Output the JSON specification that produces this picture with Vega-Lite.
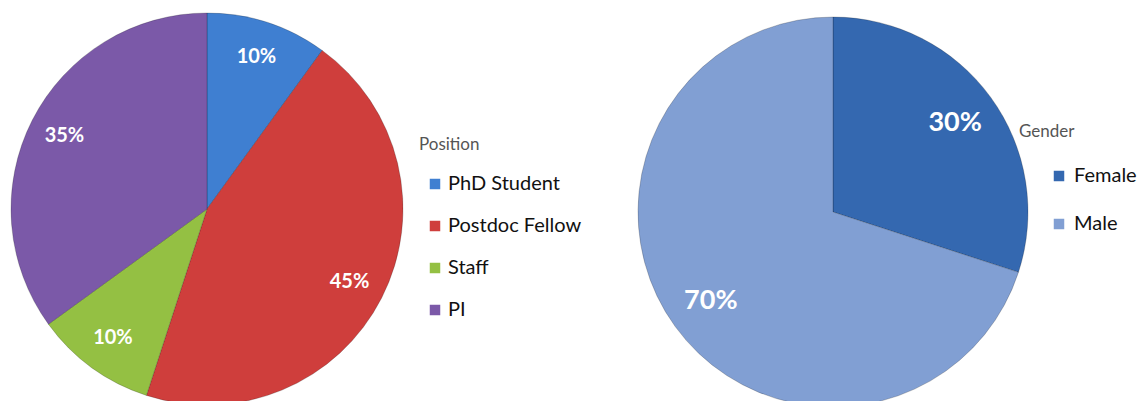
{
  "$schema": "https://vega.github.io/schema/vega-lite/v6.json",
  "background": "white",
  "padding": 0,
  "bounds": "flush",
  "spacing": 224,
  "config": {"view": {"stroke": null}},
  "resolve": {"scale": {"color": "independent", "theta": "independent"}, "legend": {"color": "independent"}},
  "hconcat": [
    {
      "width": 414,
      "height": 418,
      "data": {"values": [
        {"Position": "PhD Student", "share": 0.10, "idx": 1},
        {"Position": "Postdoc Fellow", "share": 0.45, "idx": 2},
        {"Position": "Staff", "share": 0.10, "idx": 3},
        {"Position": "PI", "share": 0.35, "idx": 4}
      ]},
      "encoding": {
        "theta": {"field": "share", "type": "quantitative", "stack": true},
        "order": {"field": "idx", "type": "quantitative"},
        "color": {
          "field": "Position", "type": "nominal",
          "scale": {"domain": ["PhD Student", "Postdoc Fellow", "Staff", "PI"], "range": ["#3f7fd1", "#cf3e3c", "#94c043", "#7b59a8"]},
          "legend": {
            "orient": "none", "legendX": 419, "legendY": 137, "padding": 0,
            "title": "Position", "titleFont": "Lato", "titleFontSize": 17, "titleFontWeight": "normal", "titleColor": "#555555", "titleBaseline": "top", "titlePadding": 20,
            "labelFont": "Lato", "labelFontSize": 20, "labelColor": "#111111", "labelOffset": 3,
            "symbolType": "square", "symbolSize": 110, "symbolOffset": 6, "symbolStrokeWidth": 0, "rowPadding": 22
          }
        }
      },
      "layer": [
        {"mark": {"type": "arc", "outerRadius": 196, "stroke": "#00000033", "strokeWidth": 1}},
        {"mark": {"type": "text", "radius": 160, "font": "Lato", "fontSize": 20, "fontWeight": "bold", "fill": "white"},
         "encoding": {"text": {"field": "share", "type": "quantitative", "format": ".0%"}}}
      ]
    },
    {
      "width": 390,
      "height": 424,
      "data": {"values": [
        {"Gender": "Female", "share": 0.30, "idx": 1},
        {"Gender": "Male", "share": 0.70, "idx": 2}
      ]},
      "encoding": {
        "theta": {"field": "share", "type": "quantitative", "stack": true},
        "order": {"field": "idx", "type": "quantitative"},
        "color": {
          "field": "Gender", "type": "nominal",
          "scale": {"domain": ["Female", "Male"], "range": ["#3468b0", "#819fd3"]},
          "legend": {
            "orient": "none", "legendX": 381, "legendY": 124, "padding": 0,
            "title": "Gender", "titleFont": "Lato", "titleFontSize": 17, "titleFontWeight": "normal", "titleColor": "#555555", "titleBaseline": "top", "titlePadding": 25,
            "labelFont": "Lato", "labelFontSize": 20, "labelColor": "#111111", "labelOffset": 5,
            "symbolType": "square", "symbolSize": 110, "symbolOffset": 30, "symbolStrokeWidth": 0, "rowPadding": 28
          }
        }
      },
      "layer": [
        {"mark": {"type": "arc", "outerRadius": 195, "stroke": "#00000033", "strokeWidth": 1}},
        {"mark": {"type": "text", "radius": 151, "font": "Lato", "fontSize": 27, "fontWeight": "bold", "fill": "white"},
         "encoding": {"text": {"field": "share", "type": "quantitative", "format": ".0%"}}}
      ]
    }
  ]
}
